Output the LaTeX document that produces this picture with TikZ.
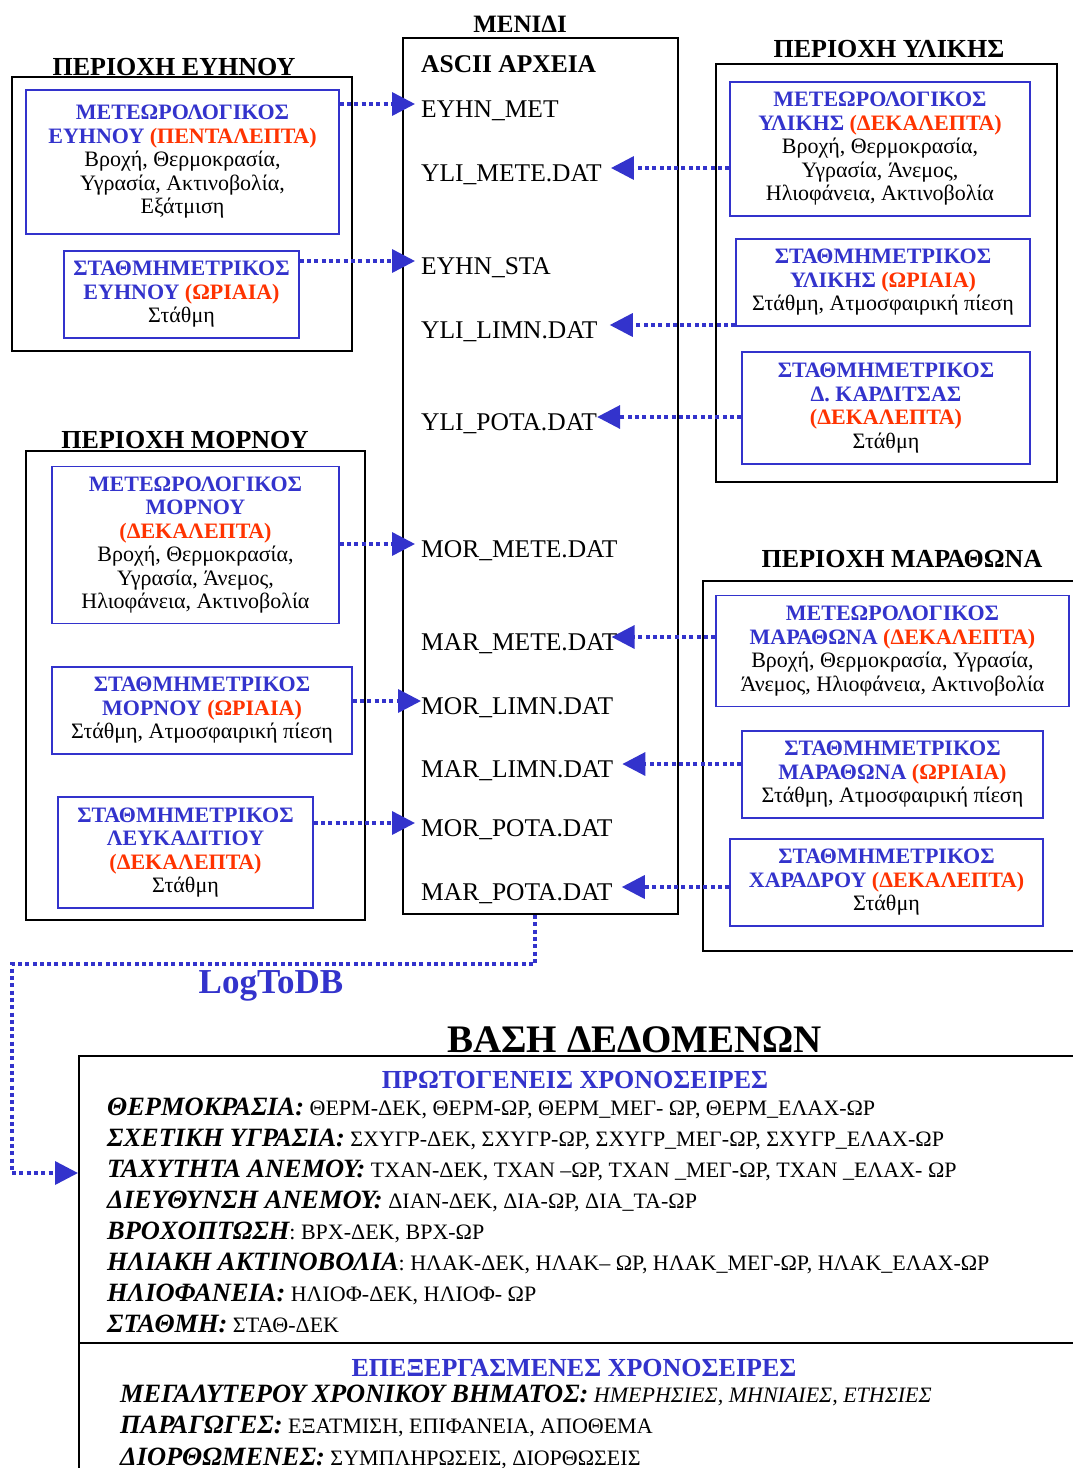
\documentclass[tikz,border=0pt]{standalone}
\usepackage{fontspec}
\setmainfont{Liberation Serif}
\usetikzlibrary{arrows.meta}
\definecolor{stblue}{RGB}{51,51,204}
\definecolor{stred}{RGB}{255,51,0}
\newcommand{\stname}[1]{\textcolor{stblue}{\textbf{#1}}}
\newcommand{\stfreq}[1]{\textcolor{stred}{\textbf{#1}}}
\newcommand{\dbkey}[1]{{\fontsize{26.4}{30}\selectfont\bfseries\itshape #1}}

\begin{document}
\begin{tikzpicture}[x=1pt,y=-1pt,
  region/.style={draw=black, line width=2pt},
  station/.style={draw=stblue, line width=1.6pt, align=center, inner sep=0pt, font=\fontsize{22}{23.5}\selectfont},
  areatitle/.style={anchor=base, inner sep=0pt, font=\fontsize{26}{30}\selectfont\bfseries},
  datfile/.style={anchor=west, inner sep=6pt, text height=26pt, text depth=0pt, font=\fontsize{25.5}{30}\selectfont},
  flow/.style={draw=stblue, line width=3.5pt, dash pattern=on 4pt off 3.3pt, -{Triangle[length=23pt,width=23pt]}},
  dbline/.style={anchor=base west, inner sep=0pt, font=\fontsize{22}{25}\selectfont},
  dbhead/.style={anchor=base, inner sep=0pt, text=stblue, font=\fontsize{26}{30}\selectfont\bfseries}]
  \fill[white] (0,0) rectangle (1073,1468);
  \useasboundingbox (0,0) rectangle (1073,1468);

  % Region outlines
  \draw[region] (12,77) rectangle (352,351);
  \draw[region] (716,64) rectangle (1057,482);
  \draw[region] (26,451) rectangle (365,920);
  \draw[region] (703,581) rectangle (1090,951);

  % Region titles
  \node[areatitle] (eyhntitle) at (174,75) {ΠΕΡΙΟΧΗ ΕΥΗΝΟΥ};
  \node[areatitle, font=\fontsize{25}{30}\selectfont\bfseries] (menidititle) at (520,32) {ΜΕΝΙΔΙ};
  \node[areatitle] (ylititle) at (889,57) {ΠΕΡΙΟΧΗ ΥΛΙΚΗΣ};
  \node[areatitle] (mortitle) at (185,448) {ΠΕΡΙΟΧΗ ΜΟΡΝΟΥ};
  \node[areatitle] (martitle) at (902,567) {ΠΕΡΙΟΧΗ ΜΑΡΑΘΩΝΑ};

  % Evinos stations
  \node[station, minimum width=313pt, minimum height=144pt] (eyhnmet) at (182.5,162) {%
    \stname{ΜΕΤΕΩΡΟΛΟΓΙΚΟΣ}\\ \stname{ΕΥΗΝΟΥ} \stfreq{(ΠΕΝΤΑΛΕΠΤΑ)}\\ Βροχή, Θερμοκρασία,\\ Υγρασία, Ακτινοβολία,\\ Εξάτμιση};
  \node[station, minimum width=235pt, minimum height=87pt] (eyhnsta) at (181.5,294.5) {%
    \stname{ΣΤΑΘΜΗΜΕΤΡΙΚΟΣ}\\ \stname{ΕΥΗΝΟΥ} \stfreq{(ΩΡΙΑΙΑ)}\\ Στάθμη};

  % Yliki stations
  \node[station, minimum width=300pt, minimum height=134pt] (ylimet) at (880,149) {%
    \stname{ΜΕΤΕΩΡΟΛΟΓΙΚΟΣ}\\ \stname{ΥΛΙΚΗΣ} \stfreq{(ΔΕΚΑΛΕΠΤΑ)}\\ Βροχή, Θερμοκρασία,\\ Υγρασία, Άνεμος,\\ Ηλιοφάνεια, Ακτινοβολία};
  \node[station, minimum width=294pt, minimum height=87pt] (ylista) at (883,282.5) {%
    \stname{ΣΤΑΘΜΗΜΕΤΡΙΚΟΣ}\\ \stname{ΥΛΙΚΗΣ} \stfreq{(ΩΡΙΑΙΑ)}\\ Στάθμη, Ατμοσφαιρική πίεση};
  \node[station, minimum width=288pt, minimum height=112pt] (ylikar) at (886,408) {%
    \stname{ΣΤΑΘΜΗΜΕΤΡΙΚΟΣ}\\ \stname{Δ. ΚΑΡΔΙΤΣΑΣ}\\ \stfreq{(ΔΕΚΑΛΕΠΤΑ)}\\ Στάθμη};

  % Mornos stations
  \node[station, minimum width=287pt, minimum height=157pt] (mormet) at (195.5,545) {%
    \stname{ΜΕΤΕΩΡΟΛΟΓΙΚΟΣ}\\ \stname{ΜΟΡΝΟΥ}\\ \stfreq{(ΔΕΚΑΛΕΠΤΑ)}\\ Βροχή, Θερμοκρασία,\\ Υγρασία, Άνεμος,\\ Ηλιοφάνεια, Ακτινοβολία};
  \node[station, minimum width=300pt, minimum height=87pt] (morsta) at (202,710.5) {%
    \stname{ΣΤΑΘΜΗΜΕΤΡΙΚΟΣ}\\ \stname{ΜΟΡΝΟΥ} \stfreq{(ΩΡΙΑΙΑ)}\\ Στάθμη, Ατμοσφαιρική πίεση};
  \node[station, minimum width=255pt, minimum height=111pt] (morlef) at (185.5,852.5) {%
    \stname{ΣΤΑΘΜΗΜΕΤΡΙΚΟΣ}\\ \stname{ΛΕΥΚΑΔΙΤΙΟΥ}\\ \stfreq{(ΔΕΚΑΛΕΠΤΑ)}\\ Στάθμη};

  % Marathon stations
  \node[station, minimum width=353pt, minimum height=111pt] (marmet) at (892.5,651) {%
    \stname{ΜΕΤΕΩΡΟΛΟΓΙΚΟΣ}\\ \stname{ΜΑΡΑΘΩΝΑ} \stfreq{(ΔΕΚΑΛΕΠΤΑ)}\\ Βροχή, Θερμοκρασία, Υγρασία,\\ Άνεμος, Ηλιοφάνεια, Ακτινοβολία};
  \node[station, minimum width=301pt, minimum height=87pt] (marsta) at (892.5,774.5) {%
    \stname{ΣΤΑΘΜΗΜΕΤΡΙΚΟΣ}\\ \stname{ΜΑΡΑΘΩΝΑ} \stfreq{(ΩΡΙΑΙΑ)}\\ Στάθμη, Ατμοσφαιρική πίεση};
  \node[station, minimum width=313pt, minimum height=87pt] (marxar) at (886.5,882.5) {%
    \stname{ΣΤΑΘΜΗΜΕΤΡΙΚΟΣ}\\ \stname{ΧΑΡΑΔΡΟΥ} \stfreq{(ΔΕΚΑΛΕΠΤΑ)}\\ Στάθμη};

  % ASCII files at Menidi
  \node[region, minimum width=275pt, minimum height=876pt] (ascii) at (540.5,476) {};
  \node[areatitle, anchor=base west, font=\fontsize{25.5}{30}\selectfont\bfseries] (asciititle) at (421,72) {ASCII ΑΡΧΕΙΑ};
  \node[datfile] (eyhnmetf) at (415,104) {EYHN\_MET};
  \node[datfile] (ylimetef) at (415,168) {YLI\_METE.DAT};
  \node[datfile] (eyhnstaf) at (415,261) {EYHN\_STA};
  \node[datfile] (ylilimnf) at (415,325) {YLI\_LIMN.DAT};
  \node[datfile] (ylipotaf) at (415,417) {YLI\_POTA.DAT};
  \node[datfile] (mormetef) at (415,544) {MOR\_METE.DAT};
  \node[datfile] (marmetef) at (415,637) {MAR\_METE.DAT};
  \node[datfile] (morlimnf) at (415,701) {MOR\_LIMN.DAT};
  \node[datfile] (marlimnf) at (415,764) {MAR\_LIMN.DAT};
  \node[datfile] (morpotaf) at (415,823) {MOR\_POTA.DAT};
  \node[datfile] (marpotaf) at (415,887) {MAR\_POTA.DAT};

  % Database
  \node[region, line width=1.8pt, anchor=north west, minimum width=1010pt, minimum height=450pt] (db) at (78,1055) {};
  \draw[black, line width=1.8pt] (db.west |- 0,1343) -- (1090,1343);
  \node[anchor=base, inner sep=0pt, font=\fontsize{39}{42}\selectfont\bfseries] (dbtitle) at (634.5,1052) {ΒΑΣΗ ΔΕΔΟΜΕΝΩΝ};
  \node[dbhead] (rawhead) at (575,1088) {ΠΡΩΤΟΓΕΝΕΙΣ ΧΡΟΝΟΣΕΙΡΕΣ};
  \node[dbline] (temp) at (107,1115) {\dbkey{ΘΕΡΜΟΚΡΑΣΙΑ:} ΘΕΡΜ-ΔΕΚ, ΘΕΡΜ-ΩΡ, ΘΕΡΜ\_ΜΕΓ- ΩΡ, ΘΕΡΜ\_ΕΛΑΧ-ΩΡ};
  \node[dbline] (hum) at (107,1146) {\dbkey{ΣΧΕΤΙΚΗ ΥΓΡΑΣΙΑ:} ΣΧΥΓΡ-ΔΕΚ, ΣΧΥΓΡ-ΩΡ, ΣΧΥΓΡ\_ΜΕΓ-ΩΡ, ΣΧΥΓΡ\_ΕΛΑΧ-ΩΡ};
  \node[dbline] (wspd) at (107,1177) {\dbkey{ΤΑΧΥΤΗΤΑ ΑΝΕΜΟΥ:} ΤΧΑΝ-ΔΕΚ, ΤΧΑΝ –ΩΡ, ΤΧΑΝ \_ΜΕΓ-ΩΡ, ΤΧΑΝ \_ΕΛΑΧ- ΩΡ};
  \node[dbline] (wdir) at (107,1208) {\dbkey{ΔΙΕΥΘΥΝΣΗ ΑΝΕΜΟΥ:} ΔΙΑΝ-ΔΕΚ, ΔΙΑ-ΩΡ, ΔΙΑ\_ΤΑ-ΩΡ};
  \node[dbline] (rain) at (107,1239) {\dbkey{ΒΡΟΧΟΠΤΩΣΗ}: ΒΡΧ-ΔΕΚ, ΒΡΧ-ΩΡ};
  \node[dbline] (rad) at (107,1270) {\dbkey{ΗΛΙΑΚΗ ΑΚΤΙΝΟΒΟΛΙΑ}: ΗΛΑΚ-ΔΕΚ, ΗΛΑΚ– ΩΡ, ΗΛΑΚ\_ΜΕΓ-ΩΡ, ΗΛΑΚ\_ΕΛΑΧ-ΩΡ};
  \node[dbline] (sun) at (107,1301) {\dbkey{ΗΛΙΟΦΑΝΕΙΑ:} ΗΛΙΟΦ-ΔΕΚ, ΗΛΙΟΦ- ΩΡ};
  \node[dbline] (level) at (107,1332) {\dbkey{ΣΤΑΘΜΗ:} ΣΤΑΘ-ΔΕΚ};
  \node[dbhead] (prochead) at (574,1376) {ΕΠΕΞΕΡΓΑΣΜΕΝΕΣ ΧΡΟΝΟΣΕΙΡΕΣ};
  \node[dbline] (coarse) at (120,1402) {\dbkey{ΜΕΓΑΛΥΤΕΡΟΥ ΧΡΟΝΙΚΟΥ ΒΗΜΑΤΟΣ:} \textit{ΗΜΕΡΗΣΙΕΣ, ΜΗΝΙΑΙΕΣ, ΕΤΗΣΙΕΣ}};
  \node[dbline] (deriv) at (120,1433) {\dbkey{ΠΑΡΑΓΩΓΕΣ:} ΕΞΑΤΜΙΣΗ, ΕΠΙΦΑΝΕΙΑ, ΑΠΟΘΕΜΑ};
  \node[dbline] (corr) at (120,1465) {\dbkey{ΔΙΟΡΘΩΜΕΝΕΣ:} ΣΥΜΠΛΗΡΩΣΕΙΣ, ΔΙΟΡΘΩΣΕΙΣ};

  % Data flows into the ASCII files
  \draw[flow] (eyhnmet.east |- eyhnmetf) -- (eyhnmetf.west);
  \draw[flow] (eyhnsta.east |- eyhnstaf) -- (eyhnstaf.west);
  \draw[flow] (mormet.east |- mormetef) -- (mormetef.west);
  \draw[flow] (morsta.east |- morlimnf) -- ([xshift=6pt]morlimnf.west);
  \draw[flow] (morlef.east |- morpotaf) -- (morpotaf.west);
  \draw[flow] (ylimet.west |- ylimetef) -- ([xshift=3pt]ylimetef.east);
  \draw[flow] (ylista.west |- ylilimnf) -- ([xshift=6pt]ylilimnf.east);
  \draw[flow] (ylikar.west |- ylipotaf) -- ([xshift=-6pt]ylipotaf.east);
  \draw[flow] (marmet.west |- marmetef) -- ([xshift=-12pt]marmetef.east);
  \draw[flow] (marsta.west |- marlimnf) -- ([xshift=3pt]marlimnf.east);
  \draw[flow] (marxar.west |- marpotaf) -- ([xshift=3pt]marpotaf.east);

  % LogToDB transfer
  \coordinate (logout) at ([xshift=-5.5pt]ascii.south);
  \coordinate (logturn) at (12,964);
  \coordinate (dbin) at ([yshift=-118pt]db.north west);
  \draw[flow] (logout) |- (logturn) |- (dbin);
  \node[anchor=base, inner sep=0pt, text=stblue, font=\fontsize{35}{38}\selectfont\bfseries] (logtodb) at (271,993) {LogToDB};
\end{tikzpicture}
\end{document}
